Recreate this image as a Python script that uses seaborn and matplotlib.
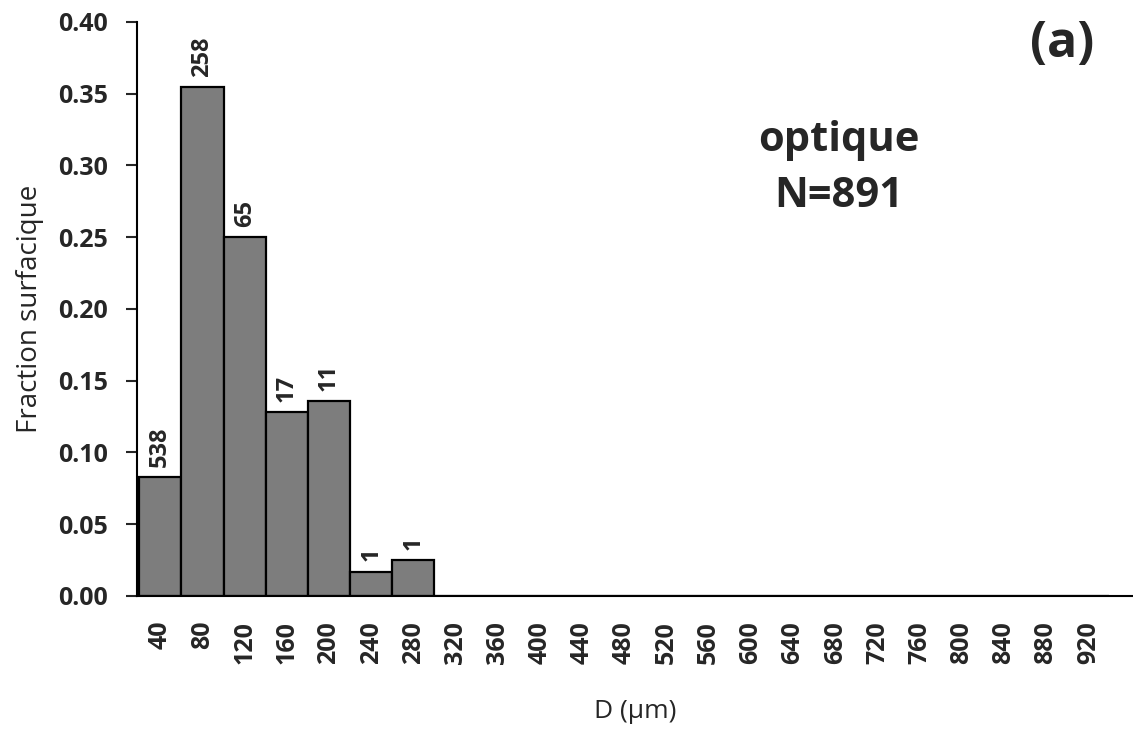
import pandas as pd
import matplotlib.pyplot as plt
import seaborn as sns

# classes de diamètre (µm) et fraction surfacique
diam = [40, 80, 120, 160, 200, 240, 280, 320, 360, 400, 440, 480, 520,
        560, 600, 640, 680, 720, 760, 800, 840, 880, 920]
fraction = [0.083, 0.355, 0.250, 0.128, 0.136, 0.017, 0.025] + [0.0] * 16
counts = ["538", "258", "65", "17", "11", "1", "1"]

df = pd.DataFrame({"D": [str(d) for d in diam], "frac": fraction})

sns.set_theme(style="white")
plt.rcParams["font.family"] = ["Open Sans", "DejaVu Sans"]

fig = plt.figure(figsize=(11.33, 7.33), dpi=100)
ax = fig.add_axes([0.121, 0.187, 0.879, 0.783])

sns.barplot(data=df, x="D", y="frac", color="#7d7d7d", saturation=1,
            width=1.0, edgecolor="black", linewidth=1.6, ax=ax)

# nombre de grains au-dessus des barres
for i, c in enumerate(counts):
    ax.text(i, fraction[i] + 0.007, c, rotation=90, ha="center", va="bottom",
            fontsize=17, fontweight="bold")

ax.set_ylim(0, 0.40)
ax.set_xlim(-0.55, 23.06)
ax.set_yticks([0.0, 0.05, 0.10, 0.15, 0.20, 0.25, 0.30, 0.35, 0.40])
ax.set_yticklabels([f"{v:.2f}" for v in ax.get_yticks()], fontsize=18, fontweight="bold")
ax.tick_params(axis="x", rotation=90, labelsize=18, length=0, pad=18)
for lab in ax.get_xticklabels():
    lab.set_fontweight("bold")
ax.tick_params(axis="y", length=8, width=1.5, direction="out", left=True, pad=13)

ax.set_xlabel("D (µm)", fontsize=19, labelpad=25)
ax.set_ylabel("Fraction surfacique", fontsize=20, labelpad=10)

sns.despine(ax=ax)
for s in ["left", "bottom"]:
    ax.spines[s].set_color("black")
    ax.spines[s].set_linewidth(1.5)

ax.text(0.705, 0.775, "optique", transform=ax.transAxes, ha="center",
        va="baseline", fontsize=30, fontweight="bold")
ax.text(0.705, 0.678, "N=891", transform=ax.transAxes, ha="center",
        va="baseline", fontsize=30, fontweight="bold")
ax.text(0.929, 0.939, "(a)", transform=ax.transAxes, ha="center",
        va="baseline", fontsize=36, fontweight="bold")

fig.savefig("out.png", dpi=100)
